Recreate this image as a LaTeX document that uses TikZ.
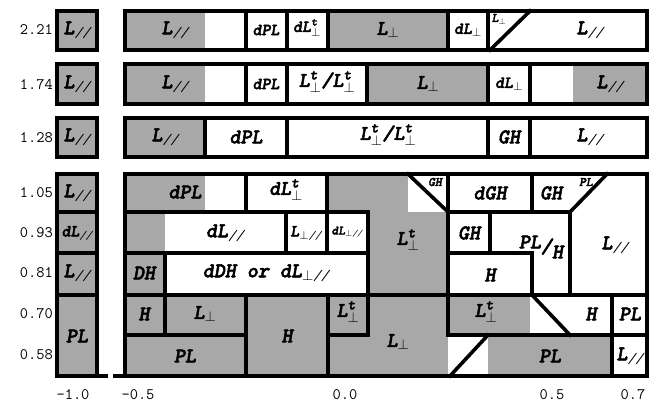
\documentclass[tikz,border=0pt]{standalone}
\usepackage{amsmath}
\usepackage{fontspec}
\newfontfamily\cellfont{lmmonolt10-boldoblique.otf}[FakeBold=2.5]
\newfontfamily\thinfont{lmmono10-italic.otf}
\definecolor{cellgray}{gray}{0.66}
\tikzset{
  wall/.style={line width=3.6pt, line cap=rect},
  lab/.style={font=\fontsize{21}{21}\selectfont\cellfont, inner sep=0pt},
  slab/.style={font=\fontsize{17}{17}\selectfont\cellfont, inner sep=0pt},
  tlab/.style={font=\fontsize{13}{13}\selectfont\cellfont, inner sep=0pt},
  ax/.style={font=\fontsize{16}{16}\selectfont\ttfamily, inner sep=0pt}
}
\newcommand{\Lpar}{L$_{\text{\thinfont//}}$}
\newcommand{\Lperp}{L$_{\perp}$}
\newcommand{\Lperpt}{L$^{\text{t}}_{\perp}$}
\newcommand{\Lpp}{L$_{\perp\text{\thinfont//}}$}
\begin{document}
\begin{tikzpicture}[x=1pt,y=-1pt]
  \useasboundingbox (0,0) rectangle (652,405);
  %%axis labels
  \node[ax,anchor=east] (y221) at (53,30) {2.21};
  \node[ax,anchor=east] (y174) at (53,85) {1.74};
  \node[ax,anchor=east] (y128) at (53,138) {1.28};
  \node[ax,anchor=east] (y105) at (53,193) {1.05};
  \node[ax,anchor=east] (y093) at (53,233) {0.93};
  \node[ax,anchor=east] (y081) at (53,273) {0.81};
  \node[ax,anchor=east] (y070) at (53,314) {0.70};
  \node[ax,anchor=east] (y058) at (53,355) {0.58};
  \node[ax] (xm10) at (73,395) {-1.0};
  \node[ax] (xm05) at (138,395) {-0.5};
  \node[ax] (x00) at (345,395) {0.0};
  \node[ax] (x05) at (552,395) {0.5};
  \node[ax] (x07) at (633,395) {0.7};

  %%shading
  \fill[cellgray] (57,11) rectangle (97,50);
  \fill[cellgray] (57,64) rectangle (97,104);
  \fill[cellgray] (57,118) rectangle (97,157);
  \fill[cellgray] (57,174) rectangle (97,376);
  \fill[cellgray] (125,11) rectangle (205,50);
  \fill[cellgray] (328,11) rectangle (448,50);
  \fill[cellgray] (125,64) rectangle (205,104);
  \fill[cellgray] (367,64) rectangle (488,104);
  \fill[cellgray] (573,64) rectangle (647,104);
  \fill[cellgray] (125,118) rectangle (205,157);
  \fill[cellgray] (125,174) rectangle (205,212);
  \fill[cellgray] (125,212) rectangle (165,295);
  \fill[cellgray] (327,174) rectangle (408,212);
  \fill[cellgray] (368,212) rectangle (448,295);
  \fill[cellgray] (125,295) rectangle (448,376);
  \fill[cellgray] (448,295) rectangle (530,335);
  \fill[cellgray] (488,335) rectangle (612,376);

  %%left column
  \draw[wall] (57,11) rectangle (97,50);
  \draw[wall] (57,64) rectangle (97,104);
  \draw[wall] (57,118) rectangle (97,157);
  \draw[wall] (57,174) -- (57,376) -- (106,376);
  \draw[wall] (97,174) -- (97,376);
  \draw[wall] (57,174) -- (97,174);
  \draw[wall] (57,212) -- (97,212);
  \draw[wall] (57,253) -- (97,253);
  \draw[wall] (57,295) -- (97,295);

  %%row 2.21
  \draw[wall] (125,11) rectangle (647,50);
    \draw[wall] (246,11) -- (246,50);
    \draw[wall] (287,11) -- (287,50);
    \draw[wall] (328,11) -- (328,50);
    \draw[wall] (448,11) -- (448,50);
    \draw[wall] (488,11) -- (488,50);
    \draw[wall] (490,50) -- (530,11);
  %%row 1.74
  \draw[wall] (125,64) rectangle (647,104);
    \draw[wall] (246,64) -- (246,104);
    \draw[wall] (287,64) -- (287,104);
    \draw[wall] (367,64) -- (367,104);
    \draw[wall] (488,64) -- (488,104);
    \draw[wall] (530,64) -- (530,104);
  %%row 1.28
  \draw[wall] (125,118) rectangle (647,157);
    \draw[wall] (205,118) -- (205,157);
    \draw[wall] (287,118) -- (287,157);
    \draw[wall] (488,118) -- (488,157);
    \draw[wall] (530,118) -- (530,157);

  %%lower block
  \draw[wall] (125,174) rectangle (647,376);
  \draw[wall] (115,376) -- (125,376);
    \draw[wall] (246,174) -- (246,212);
    \draw[wall] (327,174) -- (327,253);
    \draw[wall] (408,174) -- (448,212);
    \draw[wall] (448,174) -- (448,335);
    \draw[wall] (532,174) -- (532,212);
    \draw[wall] (570,212) -- (607,174);
    \draw[wall] (125,212) -- (368,212);
    \draw[wall] (448,212) -- (570,212);
    \draw[wall] (286,212) -- (286,253);
    \draw[wall] (368,212) -- (368,335);
    \draw[wall] (490,212) -- (490,253);
    \draw[wall] (570,212) -- (570,295);
    \draw[wall] (125,253) -- (368,253);
    \draw[wall] (448,253) -- (532,253);
    \draw[wall] (532,253) -- (532,295);
    \draw[wall] (165,253) -- (165,335);
  \draw[wall] (125,295) -- (647,295);
    \draw[wall] (125,335) -- (246,335);
    \draw[wall] (246,295) -- (246,376);
    \draw[wall] (328,295) -- (328,376);
    \draw[wall] (328,335) -- (368,335);
    \draw[wall] (448,335) -- (647,335);
    \draw[wall] (532,295) -- (570,335);
    \draw[wall] (612,295) -- (612,376);
    \draw[wall] (450,376) -- (488,335);

  %%labels left column
  \node[lab] (c221) at (77,30) {\Lpar};
  \node[lab] (c174) at (77,84) {\Lpar};
  \node[lab] (c128) at (77,137) {\Lpar};
  \node[lab] (c105) at (77,193) {\Lpar};
  \node[slab] (c093) at (77,233) {d\Lpar};
  \node[lab] (c081) at (77,273) {\Lpar};
  \node[lab] (c070) at (77,336) {PL};

  %%labels row 2.21
  \node[lab] (a1) at (175,30) {\Lpar};
  \node[slab] (a2) at (266,30) {dPL};
  \node[slab] (a3) at (307,28) {d\Lperpt};
  \node[lab] (a4) at (388,30) {\Lperp};
  \node[slab] (a5) at (468,30) {d\Lperp};
  \node[tlab] (a6) at (499,19) {\Lperp};
  \node[lab] (a7) at (590,30) {\Lpar};
  %%labels row 1.74
  \node[lab] (b1) at (175,84) {\Lpar};
  \node[slab] (b2) at (266,84) {dPL};
  \node[lab] (b3) at (327,82) {\Lperpt/\Lperpt};
  \node[lab] (b4) at (428,84) {\Lperp};
  \node[slab] (b5) at (509,84) {d\Lperp};
  \node[lab] (b6) at (610,84) {\Lpar};
  %%labels row 1.28
  \node[lab] (d1) at (165,137) {\Lpar};
  \node[lab] (d2) at (246,137) {dPL};
  \node[lab] (d3) at (388,135) {\Lperpt/\Lperpt};
  \node[lab] (d4) at (509,137) {GH};
  \node[lab] (d5) at (590,137) {\Lpar};

  %%labels lower block
  \node[lab] (e1) at (185,192) {dPL};
  \node[lab] (e2) at (286,190) {d\Lperpt};
  \node[tlab] (e3) at (435,182) {GH};
  \node[lab] (e4) at (490,193) {dGH};
  \node[lab] (e5) at (551,193) {GH};
  \node[tlab] (e6) at (586,182) {PL};
  \node[lab] (f1) at (225,233) {d\Lpar};
  \node[slab] (f2) at (306,233) {\Lpp};
  \node[tlab] (f3) at (347,232) {d\Lpp};
  \node[lab] (f4) at (408,240) {\Lperpt};
  \node[lab] (f5) at (469,233) {GH};
  \node[lab] (f6) at (541,247) {PL\raisebox{-0.5ex}{/}\raisebox{-1.1ex}{H}};
  \node[lab] (f7) at (615,245) {\Lpar};
  \node[lab] (g1) at (144,273) {DH};
  \node[lab] (g2) at (266,273) {dDH or d\Lpp};
  \node[lab] (g3) at (490,275) {H};
  \node[lab] (h1) at (144,314) {H};
  \node[lab] (h2) at (205,314) {\Lperp};
  \node[lab] (h3) at (287,336) {H};
  \node[lab] (h4) at (348,312) {\Lperpt};
  \node[lab] (h5) at (398,342) {\Lperp};
  \node[lab] (h6) at (486,312) {\Lperpt};
  \node[lab] (h7) at (591,314) {H};
  \node[lab] (h8) at (630,314) {PL};
  \node[lab] (k1) at (185,356) {PL};
  \node[lab] (k2) at (550,356) {PL};
  \node[lab] (k3) at (630,356) {\Lpar};
\end{tikzpicture}
\end{document}
